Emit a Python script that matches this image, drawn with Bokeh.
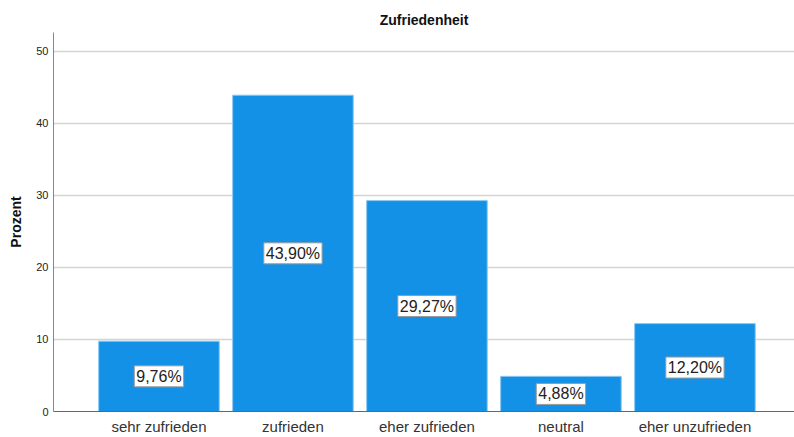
from bokeh.plotting import figure
from bokeh.models import ColumnDataSource, Range1d, FixedTicker
from bokeh.core.properties import value
from bokeh.embed import file_html
from bokeh.resources import INLINE

categories = ["sehr zufrieden", "zufrieden", "eher zufrieden", "neutral", "eher unzufrieden"]
prozent = [9.76, 43.90, 29.27, 4.88, 12.20]
y_ticks = [0, 10, 20, 30, 40, 50]

xs = list(range(len(categories)))
labels = [f"{v:.2f}".replace(".", ",") + "%" for v in prozent]
src = ColumnDataSource(dict(x=xs, top=prozent, mid=[v / 2 for v in prozent], lab=labels))

FONT = "Liberation Sans"

p = figure(width=794, height=437, output_backend="svg", toolbar_location=None,
           x_range=Range1d(-0.787, 4.743), y_range=Range1d(0, 52.6),
           title="Zufriedenheit", min_border_left=53, min_border_right=0,
           min_border_top=32, min_border_bottom=0)

p.vbar(x="x", top="top", width=0.9, source=src, fill_color="#1391e7",
       line_color="#8cc8f3", line_width=1)

p.text(x="x", y="mid", text="lab", source=src, text_align="center",
       text_baseline="middle", text_font=value(FONT), text_font_size="16px",
       text_color="#222222", background_fill_color="white",
       border_line_color="#9a9a9a", border_line_width=1, padding=2)

p.title.align = "center"
p.title.text_font = FONT
p.title.text_font_size = "14px"
p.title.text_font_style = "bold"
p.title.text_color = "#111111"

p.outline_line_color = None
p.xgrid.grid_line_color = None
p.ygrid.grid_line_color = "#d4d4d4"
p.ygrid.grid_line_width = 1.5
p.ygrid.ticker = FixedTicker(ticks=y_ticks)

p.yaxis.ticker = FixedTicker(ticks=y_ticks)
p.yaxis.axis_label = "Prozent"
p.yaxis.axis_label_text_font = FONT
p.yaxis.axis_label_text_font_size = "14px"
p.yaxis.axis_label_text_font_style = "bold"
p.yaxis.axis_label_text_color = "#111111"
p.yaxis.axis_label_standoff = 9
p.yaxis.major_label_text_font = FONT
p.yaxis.major_label_text_font_size = "11px"
p.yaxis.major_label_text_color = "#222222"
p.yaxis.major_tick_line_color = None
p.yaxis.minor_tick_line_color = None
p.yaxis.major_tick_out = 0
p.yaxis.axis_line_color = "#888888"

p.xaxis.ticker = FixedTicker(ticks=xs)
p.xaxis.major_label_overrides = {i: c for i, c in enumerate(categories)}
p.xaxis.major_label_text_font = FONT
p.xaxis.major_label_text_font_size = "15px"
p.xaxis.major_label_text_color = "#333333"
p.xaxis.major_tick_line_color = None
p.xaxis.minor_tick_line_color = None
p.xaxis.major_tick_out = 0
p.xaxis.major_label_standoff = 6
p.xaxis.axis_line_color = "#666666"

open("out.html", "w").write(file_html(p, INLINE))
